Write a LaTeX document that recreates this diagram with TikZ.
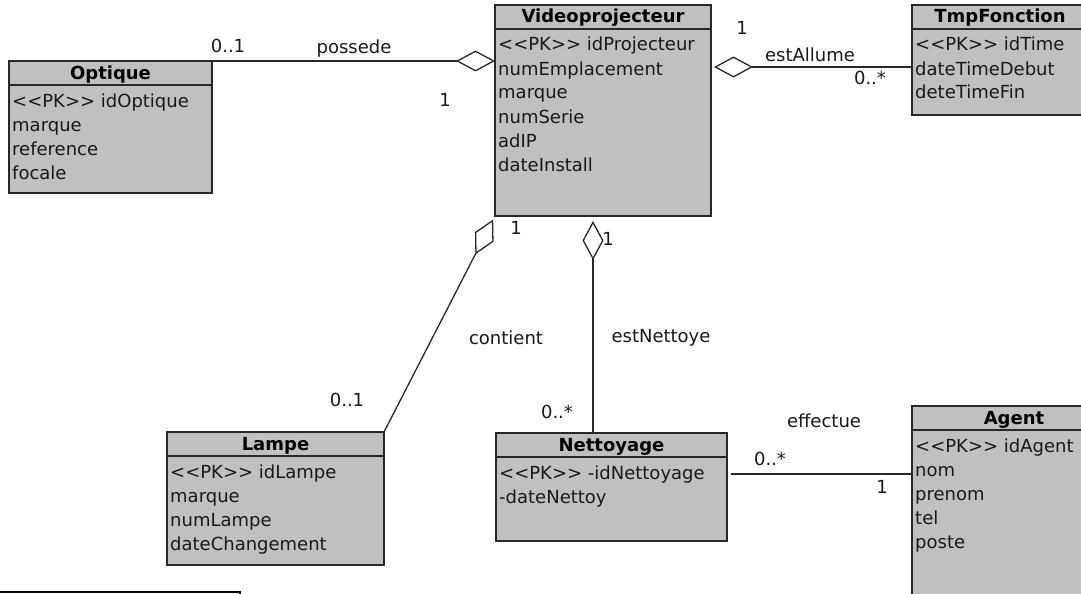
\documentclass[tikz,border=0pt]{standalone}
\usepackage{fontspec}
\setmainfont[Ligatures=TeXOff]{DejaVu Sans}
\usetikzlibrary{arrows.meta,calc}
\definecolor{boxfill}{RGB}{192,192,192}
\definecolor{boxline}{RGB}{40,40,40}
\definecolor{txt}{RGB}{25,25,25}
\tikzset{
  classbox/.style={draw=boxline, fill=boxfill, line width=1.6pt, inner sep=0pt, outer sep=0pt},
  classsep/.style={draw=boxline, line width=1.6pt},
  classtitle/.style={inner sep=0pt, font=\fontsize{18}{24}\selectfont\bfseries, text=black},
  attr/.style={inner sep=0pt, font=\fontsize{18}{24}\selectfont, text=txt},
  lbl/.style={inner sep=0pt, font=\fontsize{18}{24}\selectfont, text=txt},
  conn/.style={draw=boxline, line width=1.3pt},
  aggend/.style={-{Diamond[open,length=39pt,width=21pt,line width=1.3pt]}},
  aggstart/.style={{Diamond[open,length=39pt,width=21pt,line width=1.3pt]}-},
}
% name, x, y, w, h, title, attributes
\newcommand\umlclass[7]{%
  \node[classbox, minimum width=#4pt, minimum height=#5pt, anchor=north west] (#1) at (#2,#3) {};
  \draw[classsep] ([yshift=-24pt]#1.north west) -- ([yshift=-24pt]#1.north east);
  \node[classtitle, anchor=base] (#1-title) at ([yshift=-18pt]#1.north) {#6};
  \foreach \a [count=\i] in {#7} {%
    \node[attr, anchor=base west] (#1-a\i) at ([xshift=3pt,yshift={-(22+24*\i)*1pt}]#1.north west) {\a};}%
}
\begin{document}
\begin{tikzpicture}[x=1pt,y=-1pt]
\path[use as bounding box, clip] (0,0) rectangle (1081,594);
\fill[white] (0,0) rectangle (1081,594);

\umlclass{vp}{495}{5}{216}{211}{Videoprojecteur}{<{}<PK>{}> idProjecteur,numEmplacement,marque,numSerie,adIP,dateInstall}
\umlclass{opt}{9}{61}{203}{132}{Optique}{<{}<PK>{}> idOptique,marque,reference,focale}
\umlclass{tmp}{912}{5}{176}{110}{TmpFonction}{<{}<PK>{}> idTime,dateTimeDebut,deteTimeFin}
\umlclass{lampe}{167}{432}{217}{133}{Lampe}{<{}<PK>{}> idLampe,marque,numLampe,dateChangement}
\umlclass{net}{496}{433}{231}{108}{Nettoyage}{<{}<PK>{}> -idNettoyage,-dateNettoy}
\umlclass{agent}{912}{406}{204}{214}{Agent}{<{}<PK>{}> idAgent,nom,prenom,tel,poste}

\node[draw=black, fill=white, line width=1.6pt, minimum width=260pt, minimum height=30pt, anchor=north east, inner sep=0pt, outer sep=0pt] (frag) at (240,592) {};

% possede
\draw[conn, aggend] (opt.north east) -- (opt.north east -| vp.west);
\node[lbl] (l-poss-a) at (228,46) {0..1};
\node[lbl] (l-poss) at (354,49) {possede};
\node[lbl] (l-poss-b) at (445,100) {1};

% estAllume
\coordinate (ea) at ([yshift=-62pt]tmp.north west);
\draw[conn, aggstart, shorten <=3pt] (vp.east |- ea) -- (ea);
\node[lbl] (l-ea-a) at (742,28) {1};
\node[lbl] (l-ea) at (810,55) {estAllume};
\node[lbl] (l-ea-b) at (870,78) {0..*};

% contient
\draw[conn, aggend, shorten >=4pt] (lampe.north east) -- (vp.south west);
\node[lbl] (l-ct-a) at (516,228) {1};
\node[lbl] (l-ct) at (506,338) {contient};
\node[lbl] (l-ct-b) at (347,400) {0..1};

% estNettoye
\coordinate (en) at ([xshift=97pt]net.north west);
\draw[conn, aggend, shorten >=5pt] (en) -- (en |- vp.south);
\node[lbl] (l-en-a) at (608,239) {1};
\node[lbl] (l-en) at (661,338) {estNettoye};
\node[lbl] (l-en-b) at (557,412) {0..*};

% effectue
\coordinate (ef) at ([yshift=-68pt]agent.north west);
\draw[conn, shorten <=4pt] (net.east |- ef) -- (ef);
\node[lbl] (l-ef) at (824,421) {effectue};
\node[lbl] (l-ef-a) at (770,459) {0..*};
\node[lbl] (l-ef-b) at (882,487) {1};
\end{tikzpicture}
\end{document}
